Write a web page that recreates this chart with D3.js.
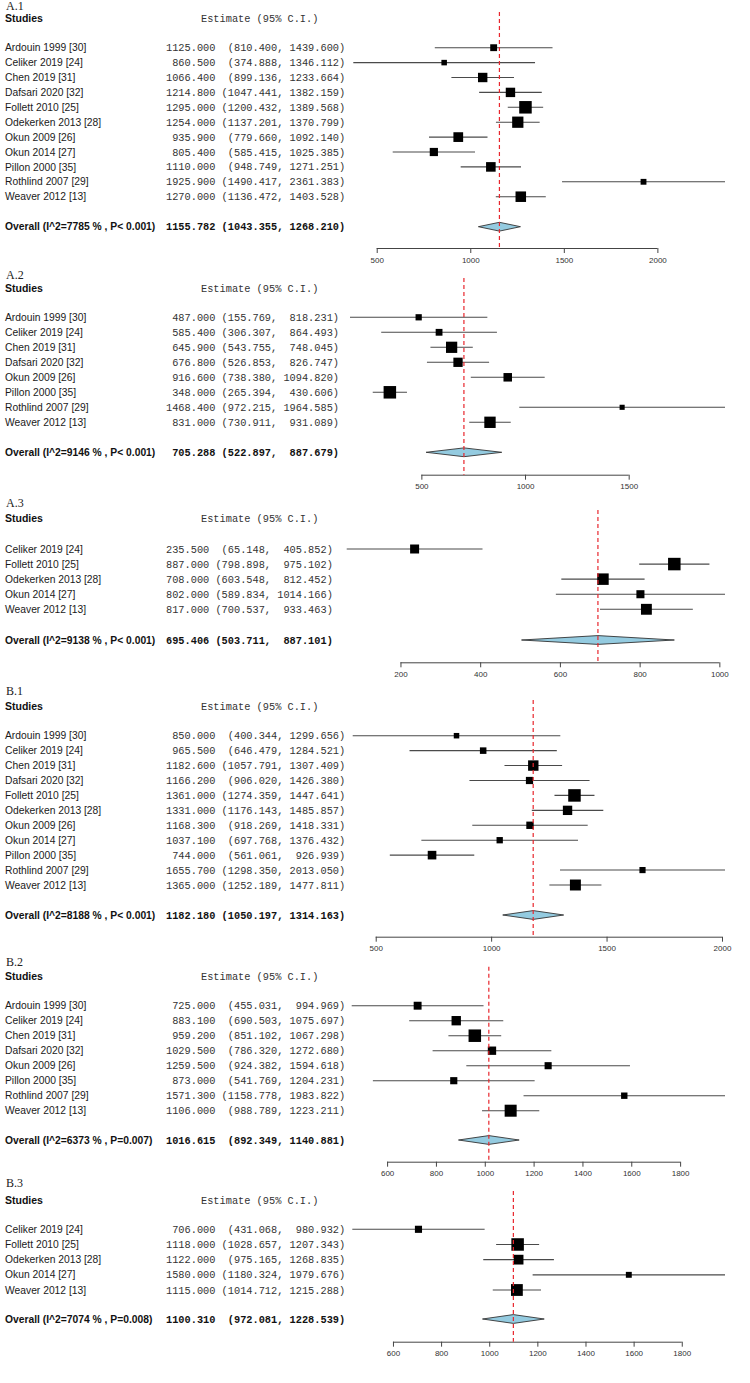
<!DOCTYPE html>
<html>
<head>
<meta charset="utf-8">
<script src="https://cdn.jsdelivr.net/npm/d3@7/dist/d3.min.js"></script>
<style>
  html, body { margin: 0; padding: 0; background: #fff; }
  svg { display: block; }
  .mono { white-space: pre; }
</style>
</head>
<body>
<svg id="chart" width="750" height="1383"></svg>
<script>
// ---------------- DATA ----------------
const panelLabels = ["A.1", "A.2", "A.3", "B.1", "B.2", "B.3"];

const a1Studies = ["Ardouin 1999 [30]", "Celiker 2019 [24]", "Chen 2019 [31]", "Dafsari 2020 [32]", "Follett 2010 [25]", "Odekerken 2013 [28]", "Okun 2009 [26]", "Okun 2014 [27]", "Pillon 2000 [35]", "Rothlind 2007 [29]", "Weaver 2012 [13]"];
const a1Est = [1125.000, 860.500, 1066.400, 1214.800, 1295.000, 1254.000, 935.900, 805.400, 1110.000, 1925.900, 1270.000];
const a1Lo  = [810.400, 374.888, 899.136, 1047.441, 1200.432, 1137.201, 779.660, 585.415, 948.749, 1490.417, 1136.472];
const a1Hi  = [1439.600, 1346.112, 1233.664, 1382.159, 1389.568, 1370.799, 1092.140, 1025.385, 1271.251, 2361.383, 1403.528];
const a1Overall = [1155.782, 1043.355, 1268.210];
const a1OverallLabel = "Overall (I^2=7785 % , P< 0.001)";
const a1Ticks = [500, 1000, 1500, 2000];

const a2Studies = ["Ardouin 1999 [30]", "Celiker 2019 [24]", "Chen 2019 [31]", "Dafsari 2020 [32]", "Okun 2009 [26]", "Pillon 2000 [35]", "Rothlind 2007 [29]", "Weaver 2012 [13]"];
const a2Est = [487.000, 585.400, 645.900, 676.800, 916.600, 348.000, 1468.400, 831.000];
const a2Lo  = [155.769, 306.307, 543.755, 526.853, 738.380, 265.394, 972.215, 730.911];
const a2Hi  = [818.231, 864.493, 748.045, 826.747, 1094.820, 430.606, 1964.585, 931.089];
const a2Overall = [705.288, 522.897, 887.679];
const a2OverallLabel = "Overall (I^2=9146 % , P< 0.001)";
const a2Ticks = [500, 1000, 1500];

const a3Studies = ["Celiker 2019 [24]", "Follett 2010 [25]", "Odekerken 2013 [28]", "Okun 2014 [27]", "Weaver 2012 [13]"];
const a3Est = [235.500, 887.000, 708.000, 802.000, 817.000];
const a3Lo  = [65.148, 798.898, 603.548, 589.834, 700.537];
const a3Hi  = [405.852, 975.102, 812.452, 1014.166, 933.463];
const a3Overall = [695.406, 503.711, 887.101];
const a3OverallLabel = "Overall (I^2=9138 % , P< 0.001)";
const a3Ticks = [200, 400, 600, 800, 1000];

const b1Studies = ["Ardouin 1999 [30]", "Celiker 2019 [24]", "Chen 2019 [31]", "Dafsari 2020 [32]", "Follett 2010 [25]", "Odekerken 2013 [28]", "Okun 2009 [26]", "Okun 2014 [27]", "Pillon 2000 [35]", "Rothlind 2007 [29]", "Weaver 2012 [13]"];
const b1Est = [850.000, 965.500, 1182.600, 1166.200, 1361.000, 1331.000, 1168.300, 1037.100, 744.000, 1655.700, 1365.000];
const b1Lo  = [400.344, 646.479, 1057.791, 906.020, 1274.359, 1176.143, 918.269, 697.768, 561.061, 1298.350, 1252.189];
const b1Hi  = [1299.656, 1284.521, 1307.409, 1426.380, 1447.641, 1485.857, 1418.331, 1376.432, 926.939, 2013.050, 1477.811];
const b1Overall = [1182.180, 1050.197, 1314.163];
const b1OverallLabel = "Overall (I^2=8188 % , P< 0.001)";
const b1Ticks = [500, 1000, 1500, 2000];

const b2Studies = ["Ardouin 1999 [30]", "Celiker 2019 [24]", "Chen 2019 [31]", "Dafsari 2020 [32]", "Okun 2009 [26]", "Pillon 2000 [35]", "Rothlind 2007 [29]", "Weaver 2012 [13]"];
const b2Est = [725.000, 883.100, 959.200, 1029.500, 1259.500, 873.000, 1571.300, 1106.000];
const b2Lo  = [455.031, 690.503, 851.102, 786.320, 924.382, 541.769, 1158.778, 988.789];
const b2Hi  = [994.969, 1075.697, 1067.298, 1272.680, 1594.618, 1204.231, 1983.822, 1223.211];
const b2Overall = [1016.615, 892.349, 1140.881];
const b2OverallLabel = "Overall (I^2=6373 % , P=0.007)";
const b2Ticks = [600, 800, 1000, 1200, 1400, 1600, 1800];

const b3Studies = ["Celiker 2019 [24]", "Follett 2010 [25]", "Odekerken 2013 [28]", "Okun 2014 [27]", "Weaver 2012 [13]"];
const b3Est = [706.000, 1118.000, 1122.000, 1580.000, 1115.000];
const b3Lo  = [431.068, 1028.657, 975.165, 1180.324, 1014.712];
const b3Hi  = [980.932, 1207.343, 1268.835, 1979.676, 1215.288];
const b3Overall = [1100.310, 972.081, 1228.539];
const b3OverallLabel = "Overall (I^2=7074 % , P=0.008)";
const b3Ticks = [600, 800, 1000, 1200, 1400, 1600, 1800];

// ---------------- LAYOUT (positions only) ----------------
const layout = [
  { label: 9.5,    header: 18,    first: 47.7,   last: 196.7,  overall: 226.7, axis: 248,    dashTop: 12,    left: 353.3 },
  { label: 279,    header: 288.3, first: 317.3,  last: 422.3,  overall: 452.3, axis: 474.7,  dashTop: 278,   left: 350 },
  { label: 507,    header: 518.7, first: 549,    last: 609.3,  overall: 640,   axis: 662.3,  dashTop: 510,   left: 346.7 },
  { label: 695,    header: 706.7, first: 735.7,  last: 885,    overall: 915,   axis: 936.7,  dashTop: 700,   left: 352.7 },
  { label: 965.5,  header: 976,   first: 1005.7, last: 1110.7, overall: 1140,  axis: 1161.7, dashTop: 966.7, left: 351.7 },
  { label: 1187.3, header: 1200,  first: 1229.3, last: 1290,   overall: 1319,  axis: 1341.7, dashTop: 1191,  left: 352.3 }
];
const plotRight = 725;
const textX = 5;
const numX = 166;
const headerX = 201;

const panels = [
  { studies: a1Studies, est: a1Est, lo: a1Lo, hi: a1Hi, overall: a1Overall, overallLabel: a1OverallLabel, ticks: a1Ticks },
  { studies: a2Studies, est: a2Est, lo: a2Lo, hi: a2Hi, overall: a2Overall, overallLabel: a2OverallLabel, ticks: a2Ticks },
  { studies: a3Studies, est: a3Est, lo: a3Lo, hi: a3Hi, overall: a3Overall, overallLabel: a3OverallLabel, ticks: a3Ticks },
  { studies: b1Studies, est: b1Est, lo: b1Lo, hi: b1Hi, overall: b1Overall, overallLabel: b1OverallLabel, ticks: b1Ticks },
  { studies: b2Studies, est: b2Est, lo: b2Lo, hi: b2Hi, overall: b2Overall, overallLabel: b2OverallLabel, ticks: b2Ticks },
  { studies: b3Studies, est: b3Est, lo: b3Lo, hi: b3Hi, overall: b3Overall, overallLabel: b3OverallLabel, ticks: b3Ticks }
];

const svg = d3.select("#chart");
const sansFont = "'Liberation Sans', Arial, sans-serif";
const monoFont = "'Liberation Mono', 'Courier New', monospace";
const serifFont = "'Liberation Serif', 'Times New Roman', serif";
const fmt = d3.format(".3f");

panels.forEach((p, pi) => {
  const L = layout[pi];
  const g = svg.append("g");
  const n = p.studies.length;

  const x = d3.scaleLinear()
    .domain([d3.min(p.lo), d3.max(p.hi)])
    .range([L.left, plotRight]);

  const y = d3.scalePoint()
    .domain(d3.range(n))
    .range([L.first, L.last]);

  // box size: area proportional to precision (1 / CI width)
  const prec = p.lo.map((lo, i) => 1 / (p.hi[i] - lo));
  const size = d3.scaleSqrt().domain([0, d3.max(prec)]).range([0, 12.5]);

  const estS = p.est.map(fmt).concat([fmt(p.overall[0])]);
  const loS = p.lo.map(v => "(" + fmt(v)).concat(["(" + fmt(p.overall[1])]);
  const hiS = p.hi.map(fmt).concat([fmt(p.overall[2])]);
  const E = d3.max(estS, s => s.length);
  const LL = d3.max(loS, s => s.length);
  const H = d3.max(hiS, s => s.length);
  const line = i => estS[i].padStart(E) + " " + loS[i].padStart(LL) + ", " + hiS[i].padStart(H) + ")";

  g.append("text")
    .attr("x", 6).attr("y", L.label)
    .attr("font-family", serifFont).attr("font-size", 12)
    .attr("fill", "#222")
    .text(panelLabels[pi]);

  g.append("text")
    .attr("x", textX).attr("y", L.header + 3.7)
    .attr("font-family", sansFont).attr("font-size", 10.5)
    .attr("font-weight", "bold").attr("fill", "#111")
    .text("Studies");
  g.append("text")
    .attr("class", "mono")
    .attr("x", headerX).attr("y", L.header + 3.5)
    .attr("font-family", monoFont).attr("font-size", 10.3)
    .attr("fill", "#333")
    .text("Estimate (95% C.I.)");

  p.studies.forEach((s, i) => {
    g.append("text")
      .attr("x", textX).attr("y", y(i) + 3.6)
      .attr("font-family", sansFont).attr("font-size", 10.3)
      .attr("fill", "#1a1a1a")
      .text(s);
    g.append("text")
      .attr("class", "mono")
      .attr("x", numX).attr("y", y(i) + 3.5)
      .attr("font-family", monoFont).attr("font-size", 10.3)
      .attr("fill", "#333")
      .text(line(i));
  });

  g.append("text")
    .attr("x", textX).attr("y", L.overall + 3.6)
    .attr("font-family", sansFont).attr("font-size", 10.3)
    .attr("font-weight", "bold").attr("fill", "#111")
    .text(p.overallLabel);
  g.append("text")
    .attr("class", "mono")
    .attr("x", numX).attr("y", L.overall + 3.5)
    .attr("font-family", monoFont).attr("font-size", 10.3)
    .attr("font-weight", "bold").attr("fill", "#111")
    .text(line(n));

  g.selectAll("line.ci").data(d3.range(n)).enter().append("line")
    .attr("x1", i => x(p.lo[i])).attr("x2", i => x(p.hi[i]))
    .attr("y1", i => y(i)).attr("y2", i => y(i))
    .attr("stroke", "#4a4a4a").attr("stroke-width", 1.1);

  g.selectAll("rect.box").data(d3.range(n)).enter().append("rect")
    .attr("x", i => x(p.est[i]) - size(prec[i]) / 2)
    .attr("y", i => y(i) - size(prec[i]) / 2)
    .attr("width", i => size(prec[i]))
    .attr("height", i => size(prec[i]))
    .attr("fill", "#000");

  const dh = 4.4;
  const [oe, ol, oh] = p.overall;
  g.append("path")
    .attr("d", `M${x(ol)},${L.overall} L${x(oe)},${L.overall - dh} L${x(oh)},${L.overall} L${x(oe)},${L.overall + dh} Z`)
    .attr("fill", "#94cbe0").attr("stroke", "#333").attr("stroke-width", 0.9);

  const axis = d3.axisBottom(x).tickValues(p.ticks).tickSize(5).tickSizeOuter(0).tickFormat(d3.format("d"));
  const ag = g.append("g").attr("transform", `translate(0,${L.axis})`).call(axis);
  ag.select(".domain").remove();
  ag.append("line")
    .attr("x1", x(p.ticks[0])).attr("x2", x(p.ticks[p.ticks.length - 1]))
    .attr("y1", 0.5).attr("y2", 0.5)
    .attr("stroke", "#444").attr("stroke-width", 1);
  ag.selectAll(".tick line").attr("stroke", "#444");
  ag.selectAll(".tick text")
    .attr("font-family", sansFont).attr("font-size", 8).attr("fill", "#333")
    .attr("y", 9);

  g.append("line")
    .attr("x1", x(oe)).attr("x2", x(oe))
    .attr("y1", L.dashTop).attr("y2", L.axis)
    .attr("stroke", "#e8262d").attr("stroke-width", 1.2)
    .attr("stroke-dasharray", "4,3");
});
</script>
</body>
</html>
